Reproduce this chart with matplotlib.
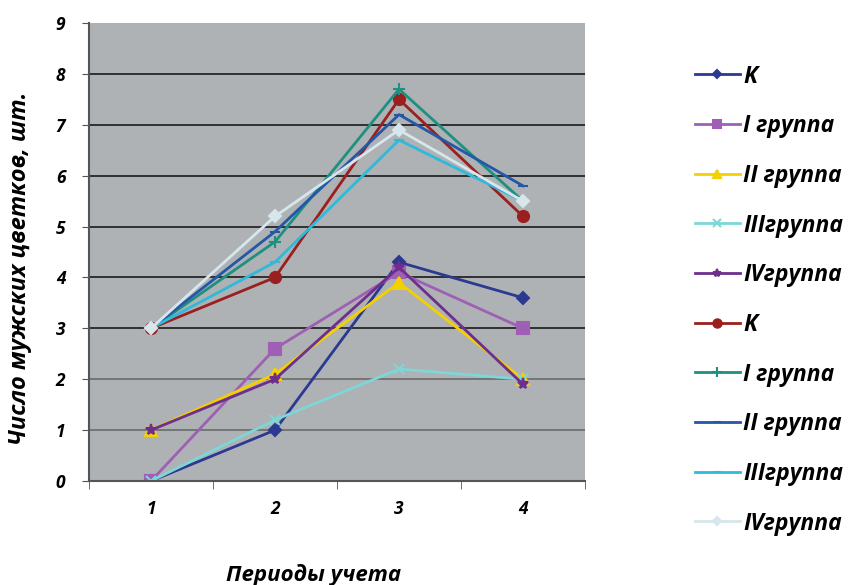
import matplotlib.pyplot as plt

periods = [1, 2, 3, 4]
labels = ["K", "I группа", "II группа", "IIIгруппа", "IVгруппа",
          "K", "I группа", "II группа", "IIIгруппа", "IVгруппа"]

k1 = [0, 1.0, 4.3, 3.6]
g1_1 = [0, 2.6, 4.1, 3.0]
g2_1 = [1, 2.1, 3.9, 2.0]
g3_1 = [0, 1.2, 2.2, 2.0]
g4_1 = [1, 2.0, 4.2, 1.9]
k2 = [3, 4.0, 7.5, 5.2]
g1_2 = [3, 4.7, 7.7, 5.5]
g2_2 = [3, 4.9, 7.2, 5.8]
g3_2 = [3, 4.3, 6.7, 5.5]
g4_2 = [3, 5.2, 6.9, 5.5]

series = [k1, g1_1, g2_1, g3_1, g4_1, k2, g1_2, g2_2, g3_2, g4_2]
colors = ["#2B3990", "#9E5FB5", "#F5D000", "#7ED6D6", "#6E2E8E",
          "#9A1F1F", "#1E9080", "#2457A8", "#2FB9DA", "#D6E6EC"]
markers = ["D", "s", "^", "x", "*", "o", "+", "_", "_", "D"]
msizes = [6, 8, 8, 7, 8, 8, 9, 7, 7, 6]

plt.rcParams['font.family'] = ['Open Sans', 'DejaVu Sans']

fig = plt.figure(figsize=(8.57, 5.85), dpi=100)
ax = fig.add_axes([89/857, 1-481/585, 496/857, 458/585])
ax.set_facecolor("#AEB2B4")

for s, lab, c, m, ms in zip(series, labels, colors, markers, msizes):
    ax.plot(periods, s, color=c, marker=m, markersize=ms, linewidth=2,
            markeredgecolor=c, markeredgewidth=1.5, label=lab)

ax.set_xlim(0.5, 4.5)
ax.set_ylim(0, 9)
ax.set_yticks(range(0, 10))
ax.set_xticks(periods)
ax.set_xticks([0.5, 1.5, 2.5, 3.5, 4.5], minor=True)
ax.tick_params(axis='x', which='major', length=0, pad=14)
ax.tick_params(axis='x', which='minor', length=6, color="#555555")
ax.tick_params(axis='y', length=5, color="#555555", pad=12)
for y in range(1, 9):
    ax.axhline(y, color="#1a1a1a" if y >= 3 else "#6a6a6a", linewidth=1.2, zorder=0.5)

for lbl in ax.get_xticklabels() + ax.get_yticklabels():
    lbl.set_fontweight("bold")
    lbl.set_fontstyle("italic")
    lbl.set_fontsize(12.5)

ax.spines['top'].set_visible(False)
ax.spines['right'].set_visible(False)
ax.spines['left'].set_color("#555555")
ax.spines['bottom'].set_color("#555555")
ax.spines['left'].set_linewidth(1.5)
ax.spines['bottom'].set_linewidth(1.5)

fig.text(20/857, 1-268/585, "Число мужских цветков, шт.", fontsize=17,
         fontweight="bold", fontstyle="italic", rotation=90,
         ha="center", va="center")
fig.text(314/857, 1-575/585, "Периоды учета", fontsize=16, fontweight="bold",
         fontstyle="italic", ha="center", va="center")

fig.legend(loc="upper left", bbox_to_anchor=(0.787, 0.925), frameon=False,
           labelspacing=1.12, handlelength=1.95, handletextpad=0.15,
           markerscale=0.75,
           prop={'weight': 'bold', 'style': 'italic', 'size': 16.5})

fig.savefig("out.png", dpi=100)
